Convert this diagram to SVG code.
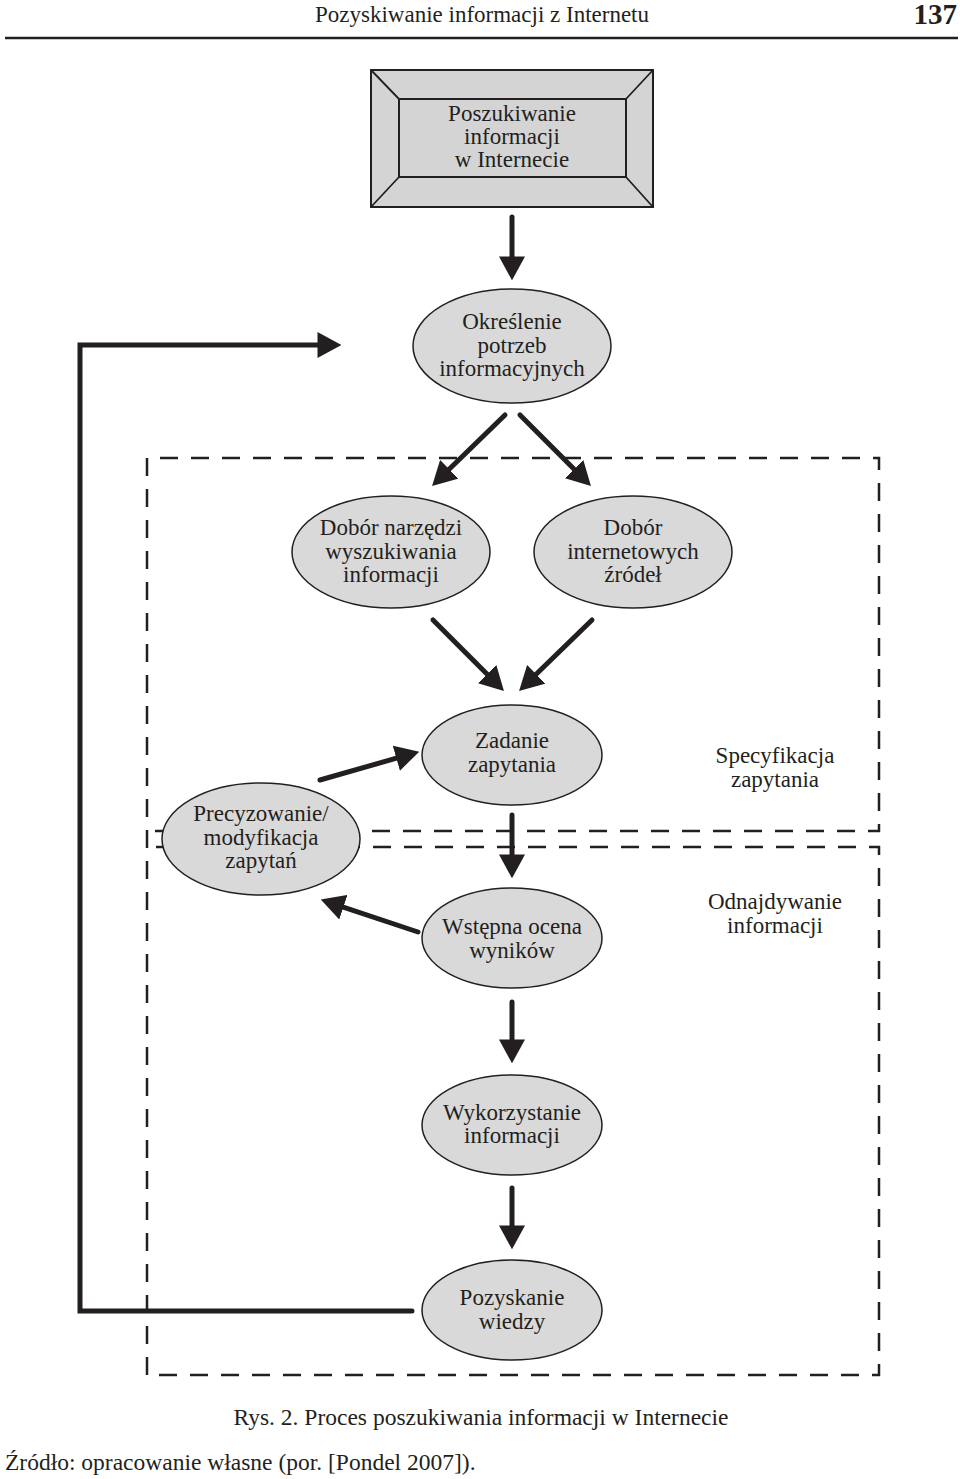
<svg xmlns="http://www.w3.org/2000/svg" width="960" height="1479" viewBox="0 0 960 1479">
<defs>
<style>
text{font-family:"Liberation Serif","Times New Roman",serif;font-size:23px;fill:#231f20;text-anchor:middle}
.node{fill:#d9d9d9;stroke:#231f20;stroke-width:1.5}
.arr{fill:none;stroke:#231f20;stroke-width:5;stroke-linecap:round;marker-end:url(#ah)}
.dash{fill:none;stroke:#231f20;stroke-width:2.5;stroke-dasharray:18 13}
</style>
<marker id="ah" markerUnits="userSpaceOnUse" markerWidth="24" markerHeight="26" viewBox="0 0 22 24" refX="6" refY="12" orient="auto">
<path d="M0,0 L22,12 L0,24 z" fill="#231f20"/>
</marker>
</defs>
<rect width="960" height="1479" fill="#ffffff"/>
<g id="header">
<text x="482" y="22" style="font-size:23px">Pozyskiwanie informacji z Internetu</text>
<text x="957" y="24" style="font-size:29px;font-weight:bold;text-anchor:end">137</text>
<line x1="5" y1="38" x2="958" y2="38" stroke="#231f20" stroke-width="2.5"/>
</g>
<g id="regions">
<path class="dash" d="M147,1375 L147,458 L879,458 L879,831 L150,831"/>
<path class="dash" d="M156,847 L879,847 L879,1375 L147,1375"/>
<text x="775" y="763">Specyfikacja</text>
<text x="775" y="787">zapytania</text>
<text x="775" y="909">Odnajdywanie</text>
<text x="775" y="933">informacji</text>
</g>
<g id="connectors">
<line class="arr" x1="512" y1="217" x2="512" y2="263"/>
<line class="arr" x1="505" y1="415" x2="444.5" y2="473.8"/>
<line class="arr" x1="520" y1="415" x2="578.7" y2="473.7"/>
<line class="arr" x1="433" y1="620" x2="491.7" y2="678.7"/>
<line class="arr" x1="592" y1="620" x2="531.5" y2="678.8"/>
<line class="arr" x1="320" y1="780" x2="402.6" y2="756.4"/>
<line class="arr" x1="418" y1="932" x2="337.2" y2="905.1"/>
<line class="arr" x1="512" y1="815" x2="512" y2="861"/>
<line class="arr" x1="512" y1="1002" x2="512" y2="1046"/>
<line class="arr" x1="512" y1="1188" x2="512" y2="1232"/>
<path class="arr" style="stroke-linejoin:miter" d="M412,1311 L80,1311 L80,345 L324,345"/>
</g>
<g id="n-start">
<rect x="371" y="70" width="282" height="137" fill="#d4d4d4" stroke="#231f20" stroke-width="2"/>
<rect x="399" y="99" width="227" height="78" fill="none" stroke="#231f20" stroke-width="2"/>
<path d="M371,70 L399,99 M653,70 L626,99 M371,207 L399,177 M653,207 L626,177" stroke="#231f20" stroke-width="1.8"/>
<text x="512" y="121">Poszukiwanie</text>
<text x="512" y="144">informacji</text>
<text x="512" y="167">w Internecie</text>
</g>
<g id="n-okreslenie">
<ellipse class="node" cx="512" cy="346" rx="99" ry="57"/>
<text x="512" y="329">Określenie</text>
<text x="512" y="353">potrzeb</text>
<text x="512" y="376">informacyjnych</text>
</g>
<g id="n-narzedzi">
<ellipse class="node" cx="391" cy="552" rx="99" ry="56"/>
<text x="391" y="535">Dobór narzędzi</text>
<text x="391" y="559">wyszukiwania</text>
<text x="391" y="582">informacji</text>
</g>
<g id="n-zrodel">
<ellipse class="node" cx="633" cy="552" rx="99" ry="56"/>
<text x="633" y="535">Dobór</text>
<text x="633" y="559">internetowych</text>
<text x="633" y="582">źródeł</text>
</g>
<g id="n-zadanie">
<ellipse class="node" cx="512" cy="755" rx="90" ry="50"/>
<text x="512" y="748">Zadanie</text>
<text x="512" y="772">zapytania</text>
</g>
<g id="n-precyzowanie">
<ellipse class="node" cx="261" cy="839" rx="99" ry="56"/>
<text x="261" y="821">Precyzowanie/</text>
<text x="261" y="845">modyfikacja</text>
<text x="261" y="868">zapytań</text>
</g>
<g id="n-wstepna">
<ellipse class="node" cx="512" cy="938" rx="90" ry="50"/>
<text x="512" y="934">Wstępna ocena</text>
<text x="512" y="958">wyników</text>
</g>
<g id="n-wykorzystanie">
<ellipse class="node" cx="512" cy="1125" rx="90" ry="50"/>
<text x="512" y="1120">Wykorzystanie</text>
<text x="512" y="1143">informacji</text>
</g>
<g id="n-pozyskanie">
<ellipse class="node" cx="512" cy="1310" rx="90" ry="50"/>
<text x="512" y="1305">Pozyskanie</text>
<text x="512" y="1329">wiedzy</text>
</g>
<g id="caption">
<text x="481" y="1425" style="font-size:23.5px">Rys. 2. Proces poszukiwania informacji w Internecie</text>
<text x="5" y="1470" style="text-anchor:start;font-size:23.5px">Źródło: opracowanie własne (por. [Pondel 2007]).</text>
</g>
</svg>
